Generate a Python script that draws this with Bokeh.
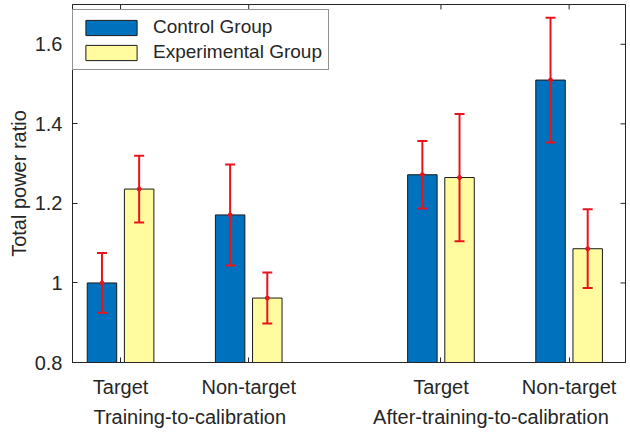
import math
from bokeh.plotting import figure
from bokeh.models import (ColumnDataSource, Range1d, FixedTicker, LinearAxis,
                          Whisker, TeeHead, Legend, LegendItem)
from bokeh.embed import file_html
from bokeh.resources import INLINE

# ---- data ----
conditions = ["Target", "Non-target", "Target", "Non-target"]
phases = ["Training-to-calibration", "After-training-to-calibration"]
control_mean = [1.000, 1.171, 1.272, 1.510]
control_err = [0.075, 0.127, 0.085, 0.157]
exper_mean = [1.236, 0.962, 1.265, 1.086]
exper_err = [0.084, 0.064, 0.160, 0.099]
y_ticks = [0.8, 1, 1.2, 1.4, 1.6]
y_tick_labels = ["0.8", "1", "1.2", "1.4", "1.6"]
y_title = "Total power ratio"

# ---- layout constants ----
cat_pos = [1, 2, 3.5, 4.5]
phase_pos = [1.54, 3.89]
offset = 0.145
bar_w = 0.23
BASE = 0.8
X0, X1 = 0.625, 4.94
Y0, Y1 = 0.8, 1.7
BLUE = "#0072BD"
YELLOW = "#FFFB9E"
EDGE = "#1a1a1a"
AX = "#262626"
RED = "#E8141B"
FONT = "Liberation Sans"

p = figure(width=628, height=430, output_backend="svg", toolbar_location=None,
           x_range=Range1d(X0, X1), y_range=Range1d(Y0, Y1),
           min_border_left=72, min_border_right=3, min_border_top=4,
           min_border_bottom=68, background_fill_color="white",
           border_fill_color="white")
p.xgrid.visible = False
p.ygrid.visible = False
p.outline_line_color = AX
p.outline_line_width = 1

xc = [x - offset for x in cat_pos]
xe = [x + offset for x in cat_pos]
src_c = ColumnDataSource(dict(x=xc, top=control_mean,
                              lo=[m - e for m, e in zip(control_mean, control_err)],
                              hi=[m + e for m, e in zip(control_mean, control_err)]))
src_e = ColumnDataSource(dict(x=xe, top=exper_mean,
                              lo=[m - e for m, e in zip(exper_mean, exper_err)],
                              hi=[m + e for m, e in zip(exper_mean, exper_err)]))

r_c = p.vbar(x="x", top="top", bottom=BASE, width=bar_w, source=src_c,
             fill_color=BLUE, line_color=EDGE, line_width=1)
r_e = p.vbar(x="x", top="top", bottom=BASE, width=bar_w, source=src_e,
             fill_color=YELLOW, line_color=EDGE, line_width=1)

for src in (src_c, src_e):
    w = Whisker(base="x", lower="lo", upper="hi", source=src, level="overlay",
                line_color=RED, line_width=2,
                upper_head=TeeHead(size=10, line_color=RED, line_width=2),
                lower_head=TeeHead(size=10, line_color=RED, line_width=2))
    p.add_layout(w)
    p.scatter(x="x", y="top", source=src, size=4, color=RED, level="overlay")

# inward ticks on the top and right edges of the box
p.ray(x=cat_pos, y=[Y1] * len(cat_pos), length=5, length_units="screen",
      angle=-math.pi / 2, line_color=AX, line_width=1)
p.ray(x=[X1] * len(y_ticks), y=y_ticks, length=5, length_units="screen",
      angle=math.pi, line_color=AX, line_width=1)

# ---- axes ----
xa = p.xaxis[0]
xa.ticker = FixedTicker(ticks=cat_pos)
xa.major_label_overrides = {c: t for c, t in zip(cat_pos, conditions)}
ya = p.yaxis[0]
ya.ticker = FixedTicker(ticks=y_ticks)
ya.major_label_overrides = {v: t for v, t in zip(y_ticks, y_tick_labels)}
ya.axis_label = y_title
ya.axis_label_text_font_size = "20px"
ya.axis_label_text_font = FONT
ya.axis_label_text_font_style = "normal"
ya.axis_label_text_color = AX
ya.axis_label_standoff = 2

for a in (xa, ya):
    a.major_tick_in = 5
    a.major_tick_out = 0
    a.minor_tick_in = 0
    a.minor_tick_out = 0
    a.minor_tick_line_color = None
    a.axis_line_color = AX
    a.major_tick_line_color = AX
    a.major_label_text_font = FONT
    a.major_label_text_font_size = "20px"
    a.major_label_text_color = AX
xa.major_label_standoff = 13
xa.axis_label_standoff = 0
ya.major_label_standoff = 10

phase_axis = LinearAxis(ticker=FixedTicker(ticks=phase_pos),
                        major_label_overrides={c: t for c, t in zip(phase_pos, phases)})
phase_axis.axis_line_color = None
phase_axis.major_tick_line_color = None
phase_axis.major_tick_in = 0
phase_axis.major_tick_out = 0
phase_axis.minor_tick_in = 0
phase_axis.minor_tick_out = 0
phase_axis.minor_tick_line_color = None
phase_axis.axis_label_standoff = 0
phase_axis.major_label_text_font = FONT
phase_axis.major_label_text_font_size = "20px"
phase_axis.major_label_text_color = AX
phase_axis.major_label_standoff = 5
p.add_layout(phase_axis, "below")

legend = Legend(items=[LegendItem(label="Control Group", renderers=[r_c]),
                       LegendItem(label="Experimental Group", renderers=[r_e])],
                location=(0, 292), margin=0, padding=6, spacing=3,
                glyph_width=64, glyph_height=19, label_standoff=10,
                label_height=19, label_text_font=FONT,
                label_text_font_size="19px", label_text_color=AX,
                border_line_color=AX, border_line_width=1,
                background_fill_color="white", background_fill_alpha=1)
p.add_layout(legend, "center")

open("out.html", "w").write(file_html(p, INLINE))
